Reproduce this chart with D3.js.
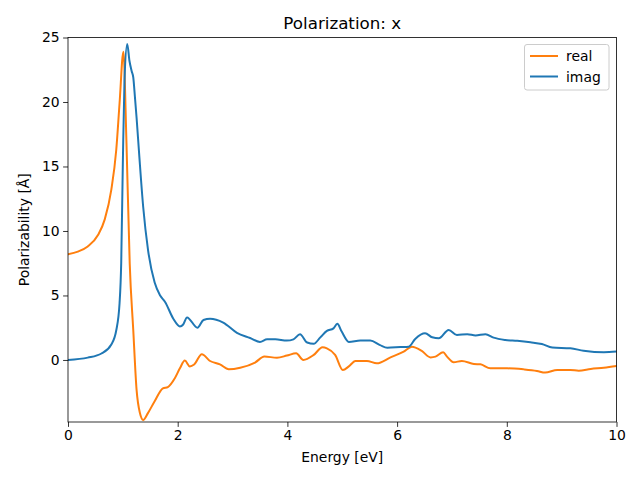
<!DOCTYPE html>
<html><head><meta charset="utf-8">
<script src="https://cdn.jsdelivr.net/npm/d3@7"></script>
<style>body{margin:0;background:#fff}svg{display:block}text{font-family:"DejaVu Sans",sans-serif;fill:#000}</style>
</head><body><svg id="c" width="640" height="480"></svg>
<script>
const title = "Polarization: x";
const xLabel = "Energy [eV]";
const yLabel = "Polarizability [Å]";
const xTicks = [0, 2, 4, 6, 8, 10];
const yTicks = [0, 5, 10, 15, 20, 25];
const seriesNames = ["real", "imag"];
const seriesColors = ["#ff7f0e", "#1f77b4"];

const realX = [0,0.18,0.36,0.55,0.67,0.79,0.88,0.94,1.01,1.065,1.125,1.19,1.25,1.31,1.37,1.46,1.58,1.73,1.82,1.95,2.04,2.13,2.22,2.30,2.44,2.59,2.77,2.93,3.14,3.41,3.58,3.81,3.99,4.16,4.29,4.48,4.64,4.72,4.87,5.01,5.12,5.24,5.45,5.63,5.88,6.12,6.27,6.45,6.61,6.70,6.84,6.91,7.03,7.18,7.40,7.52,7.70,8.01,8.31,8.55,8.70,8.92,9.16,9.31,9.53,9.77,10];
const realY = [8.2,8.4,8.8,9.7,10.9,13.2,16.3,19.9,23.9,17.0,7.5,2.3,-2.3,-4.1,-4.65,-4.1,-3.2,-2.2,-2.1,-1.4,-0.65,-0.05,-0.5,-0.35,0.44,-0.08,-0.34,-0.72,-0.6,-0.2,0.26,0.18,0.34,0.52,0.0,0.39,0.98,0.9,0.39,-0.78,-0.5,-0.08,-0.08,-0.26,0.2,0.65,1.03,0.7,0.2,0.26,0.6,0.26,-0.18,-0.08,-0.31,-0.34,-0.65,-0.65,-0.73,-0.85,-0.98,-0.78,-0.78,-0.83,-0.7,-0.6,-0.47];

const imagX = [0,0.36,0.61,0.79,0.88,0.94,0.97,1.00,1.03,1.08,1.12,1.16,1.19,1.22,1.25,1.30,1.37,1.46,1.58,1.68,1.77,1.92,2.04,2.10,2.17,2.36,2.47,2.59,2.83,3.08,3.32,3.50,3.63,3.78,3.99,4.11,4.23,4.36,4.48,4.60,4.72,4.84,4.91,4.99,5.12,5.33,5.51,5.69,5.82,6.06,6.21,6.33,6.51,6.64,6.76,6.94,7.09,7.28,7.43,7.61,7.76,7.97,8.19,8.43,8.64,8.83,9.16,9.40,9.77,10];
const imagY = [0,0.18,0.5,1.2,2.3,4.4,7.5,15.3,21.7,24.5,23.2,22.4,21.9,20.4,18.8,15.8,11.9,8.5,6.0,5.0,4.5,3.2,2.6,2.75,3.3,2.5,3.1,3.2,2.9,2.1,1.7,1.4,1.6,1.6,1.5,1.6,2.0,1.35,1.25,1.75,2.25,2.45,2.8,2.2,1.4,1.5,1.5,1.15,0.95,1.0,1.03,1.63,2.07,1.76,1.68,2.33,1.94,2.0,1.9,2.0,1.73,1.55,1.48,1.37,1.24,0.96,0.9,0.72,0.6,0.65];

const L = 68, R = 616.5, T = 37.5, B = 422;
const svg = d3.select("#c");
const x = d3.scaleLinear().domain([0, 10]).range([L, R]);
const y = d3.scaleLinear().domain([-4.81, 25]).range([B, T]);

svg.append("defs").append("clipPath").attr("id","clip")
  .append("rect").attr("x",L).attr("y",T).attr("width",R-L).attr("height",B-T);

const line = d3.line().x(d => x(d[0])).y(d => y(d[1])).curve(d3.curveMonotoneX);
const series = [realX.map((v,i)=>[v, realY[i]]), imagX.map((v,i)=>[v, imagY[i]])];
svg.append("g").attr("clip-path","url(#clip)").selectAll("path").data(series).join("path")
  .attr("d", line).attr("fill","none").attr("stroke",(d,i)=>seriesColors[i])
  .attr("stroke-width",2).attr("stroke-linejoin","round").attr("stroke-linecap","square");

const xAxis = svg.append("g").attr("transform",`translate(0,${B})`)
  .call(d3.axisBottom(x).tickValues(xTicks).tickSize(4.9).tickPadding(3.5).tickFormat(d3.format("d")));
const yAxis = svg.append("g").attr("transform",`translate(${L},0)`)
  .call(d3.axisLeft(y).tickValues(yTicks).tickSize(4.9).tickPadding(3.5).tickFormat(d3.format("d")));
[xAxis, yAxis].forEach(a => {
  a.select(".domain").remove();
  a.selectAll("line").attr("stroke","#000").attr("stroke-width",0.8);
  a.selectAll("text").attr("font-size","13.9px").attr("font-family","DejaVu Sans, sans-serif");
});

svg.append("rect").attr("x",L).attr("y",T).attr("width",R-L).attr("height",B-T)
  .attr("fill","none").attr("stroke","#000").attr("stroke-width",0.8);

svg.append("text").attr("x",(L+R)/2).attr("y",29).attr("text-anchor","middle")
  .attr("font-size","16.7px").text(title);
svg.append("text").attr("x",(L+R)/2).attr("y",462).attr("text-anchor","middle")
  .attr("font-size","13.9px").text(xLabel);
svg.append("text").attr("transform",`translate(29,${(T+B)/2}) rotate(-90)`).attr("text-anchor","middle")
  .attr("font-size","13.9px").text(yLabel);

// legend
const lg = svg.append("g");
lg.append("rect").attr("x",524.5).attr("y",44.5).attr("width",84.5).attr("height",45.5)
  .attr("rx",2.5).attr("fill","#fff").attr("fill-opacity",0.8).attr("stroke","#cccccc").attr("stroke-width",1);
seriesNames.forEach((n,i) => {
  const yy = 56 + i*20.5;
  lg.append("line").attr("x1",530).attr("x2",558).attr("y1",yy).attr("y2",yy)
    .attr("stroke",seriesColors[i]).attr("stroke-width",2);
  lg.append("text").attr("x",566).attr("y",yy+5).attr("font-size","13.9px").text(n);
});
</script></body></html>
